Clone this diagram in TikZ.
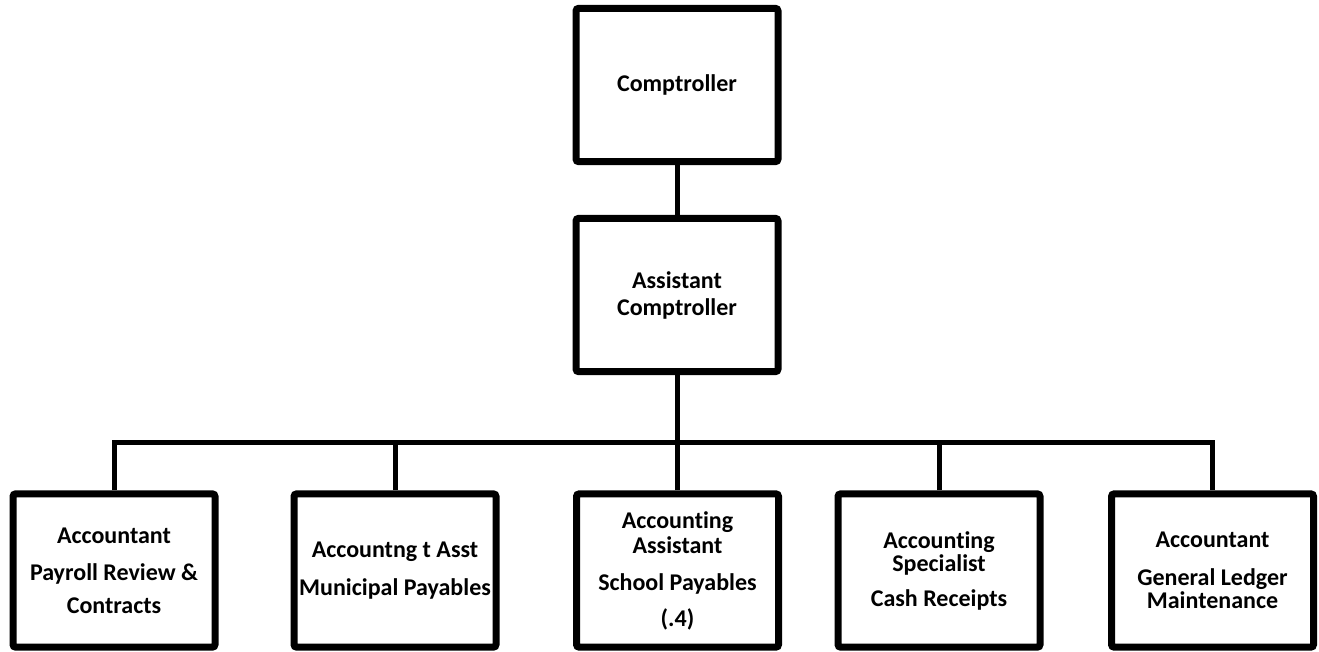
\documentclass[tikz,border=0pt]{standalone}
\usepackage{fontspec}
\setmainfont[Ligatures=NoCommon]{Carlito}
\begin{document}
\begin{tikzpicture}[x=0.75pt,y=-0.75pt,
  box/.style={draw=black, line width=5.25pt, rounded corners=2pt, fill=white,
    minimum width=151.5pt, minimum height=115pt, inner sep=0pt, align=center,
    font=\fontsize{18}{17.25}\selectfont\bfseries},
  conn/.style={draw=black, line width=3.75pt}]
\useasboundingbox (0,0) rectangle (1319,651);
\coordinate (bus) at (677,442);
\node[box] (top) at (677,85) {Comptroller};
\node[box] (asst) at (677,295) {Assistant\\[3pt]Comptroller};
\node[box] (b1) at (114,570.5) {Accountant\\[10.5pt]Payroll Review \&\\[7.5pt]Contracts};
\node[box] (b2) at (395,570.5) {Accountng t Asst\\[11.25pt]Municipal Payables};
\node[box] (b3) at (677.5,570.5) {Accounting\\[1.5pt]Assistant\\[10.5pt]School Payables\\[9.75pt](.4)};
\node[box] (b4) at (939,570.5) {Accounting\\[0pt]Specialist\\[9pt]Cash Receipts};
\node[box] (b5) at (1212.5,570.5) {Accountant\\[11.25pt]General Ledger\\[0pt]Maintenance};
\draw[conn] (top.south) -- (asst.north);
\draw[conn] (asst.south) -- (bus);
\draw[conn] (b1.north) -- (b1.north |- bus) -- (b5.north |- bus) -- (b5.north);
\draw[conn] (b2.north) -- (b2.north |- bus);
\draw[conn] (b3.north) -- (b3.north |- bus);
\draw[conn] (b4.north) -- (b4.north |- bus);
\end{tikzpicture}
\end{document}
